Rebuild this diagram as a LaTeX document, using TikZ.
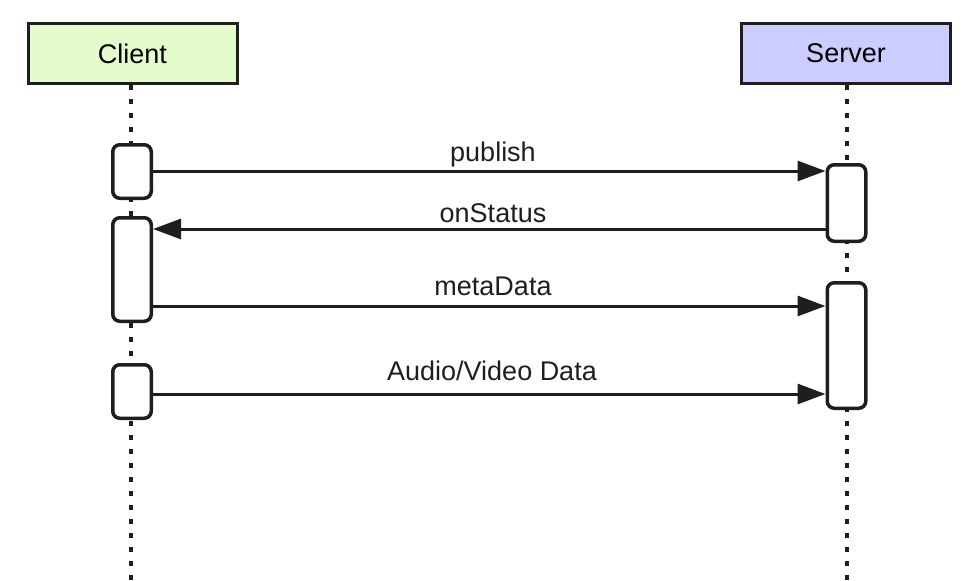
\documentclass[tikz,border=0pt]{standalone}
\usepackage{fontspec}
\setmainfont{Liberation Sans}
\usepackage{tikz}
\usetikzlibrary{arrows.meta, positioning, calc}
\definecolor{clientgreen}{RGB}{228, 252, 204}
\definecolor{serverblue}{RGB}{204, 204, 255}
\definecolor{inkdark}{RGB}{30, 30, 30}

\begin{document}
\begin{tikzpicture}[
  x=1pt, y=-1pt,
  actor/.style={rectangle, draw=inkdark, line width=3pt, minimum width=209pt, minimum height=60pt, inner sep=0pt, font=\fontsize{27}{32}\selectfont},
  actbox/.style={rectangle, rounded corners=7pt, draw=inkdark, fill=white, line width=3.5pt, minimum width=38.5pt, inner sep=0pt},
  lifeline/.style={inkdark, line width=3.5pt, dash pattern=on 5pt off 9pt},
  msg/.style={-{Triangle[length=28pt, width=20pt]}, line width=3pt, inkdark},
  lbl/.style={anchor=base, inner sep=0pt, font=\fontsize{27}{32}\selectfont, text=inkdark}
]
  \useasboundingbox (0,0) rectangle (978,581);

  % participants
  \node[actor, fill=clientgreen] (client) at (132.5,53.5) {Client};
  \node[actor, fill=serverblue] (server) at (846,53) {Server};
  \coordinate (clientend) at (131,581);
  \coordinate (serverend) at (847,581);
  \draw[lifeline] (client.south -| clientend) -- (clientend);
  \draw[lifeline] (server.south -| serverend) -- (serverend);

  % activations
  \node[actbox, minimum height=53.5pt] (c1) at (132,171.5) {};
  \node[actbox, minimum height=103.5pt] (c2) at (132,269.5) {};
  \node[actbox, minimum height=53.5pt] (c3) at (132,391.5) {};
  \node[actbox, minimum height=76.5pt] (s1) at (846.5,203) {};
  \node[actbox, minimum height=125.5pt] (s2) at (846.5,345.5) {};

  % messages
  \coordinate (m1) at (0,171);
  \coordinate (m2) at (0,229);
  \coordinate (m3) at (0,306);
  \coordinate (m4) at (0,394);
  \draw[msg] (c1.east |- m1) -- (s1.west |- m1);
  \draw[msg] (s1.west |- m2) -- (c2.east |- m2);
  \draw[msg] (c2.east |- m3) -- (s2.west |- m3);
  \draw[msg] (c3.east |- m4) -- (s2.west |- m4);

  \node[lbl] (publishlbl) at (493,161) {publish};
  \node[lbl] (statuslbl) at (493,222) {onStatus};
  \node[lbl] (metalbl) at (493,295) {metaData};
  \node[lbl] (avlbl) at (492,380) {Audio/Video Data};
\end{tikzpicture}
\end{document}
